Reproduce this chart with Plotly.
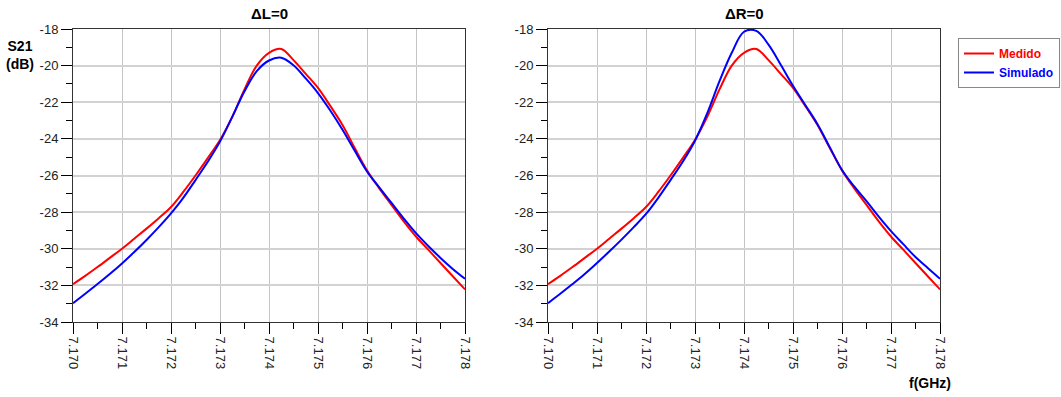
import plotly.graph_objects as go

# Frequency sweep (GHz)
freq = [7.17000, 7.17025, 7.17050, 7.17075, 7.17100, 7.17125, 7.17150, 7.17175,
        7.17200, 7.17225, 7.17250, 7.17275, 7.17300, 7.17325, 7.17350, 7.17375,
        7.17400, 7.17425, 7.17450, 7.17475, 7.17500, 7.17525, 7.17550, 7.17575,
        7.17600, 7.17625, 7.17650, 7.17675, 7.17700, 7.17725, 7.17750, 7.17775,
        7.17800]

# Measured S21 (dB), shown in both panels
medido = [-31.93, -31.48, -31.00, -30.50, -30.00, -29.45, -28.90, -28.33,
          -27.72, -26.90, -26.00, -25.05, -24.06, -22.80, -21.30, -20.00,
          -19.30, -19.09, -19.70, -20.45, -21.22, -22.20, -23.24, -24.50,
          -25.72, -26.70, -27.60, -28.50, -29.33, -30.05, -30.78, -31.50,
          -32.22]

# Simulated S21 (dB) with delta L = 0
simulado_l = [-32.98, -32.46, -31.93, -31.38, -30.80, -30.18, -29.52, -28.82,
              -28.07, -27.22, -26.25, -25.25, -24.15, -22.80, -21.40, -20.30,
              -19.72, -19.57, -19.98, -20.70, -21.50, -22.45, -23.50, -24.65,
              -25.78, -26.65, -27.50, -28.35, -29.15, -29.85, -30.50, -31.10,
              -31.64]

# Simulated S21 (dB) with delta R = 0
simulado_r = [-32.97, -32.46, -31.93, -31.38, -30.78, -30.15, -29.50, -28.82,
              -28.10, -27.22, -26.25, -25.25, -24.10, -22.60, -20.85, -19.30,
              -18.15, -18.10, -18.85, -19.95, -21.10, -22.15, -23.20, -24.45,
              -25.70, -26.60, -27.40, -28.25, -29.04, -29.75, -30.45, -31.05,
              -31.64]

panel_titles = ["\u0394L=0", "\u0394R=0"]
series_names = ["Medido", "Simulado"]
series_colors = ["#ff0000", "#0000ff"]

x_ticks = [7.170, 7.171, 7.172, 7.173, 7.174, 7.175, 7.176, 7.177, 7.178]
y_ticks = [-34, -32, -30, -28, -26, -24, -22, -20, -18]

W, H = 1061, 397
left_dom = [73 / W, 465 / W]
right_dom = [548 / W, 940 / W]
y_dom = [1 - 322 / H, 1 - 29 / H]

fig = go.Figure()

panels = [("x", "y", simulado_l), ("x2", "y2", simulado_r)]
for i, (xa, ya, sim) in enumerate(panels):
    for name, color, vals in zip(series_names, series_colors, [medido, sim]):
        fig.add_trace(go.Scatter(
            x=freq, y=vals, mode="lines", xaxis=xa, yaxis=ya,
            line=dict(color=color, width=2, shape="spline", smoothing=1.0),
            name=f'<span style="color:{color}"><b>{name}</b></span>',
            showlegend=(i == 0),
        ))

tick_font = dict(family="Liberation Sans, Arial, sans-serif", size=13, color="#222")

def x_axis(domain, anchor):
    return dict(
        domain=domain, anchor=anchor, range=[7.170, 7.178], automargin=False,
        tickvals=x_ticks, ticktext=[f"{v:.3f}" for v in x_ticks],
        tickangle=90, ticks="outside", ticklen=11, tickcolor="#000", tickwidth=1,
        tickfont=tick_font,
        showline=True, linecolor="#333", linewidth=1, mirror=True,
        showgrid=True, gridcolor="#c4c4c4", gridwidth=1,
        zeroline=False,
        minor=dict(dtick=0.0005, tick0=7.170, ticks="outside", ticklen=6,
                   tickcolor="#000", showgrid=False),
    )

def y_axis(anchor):
    return dict(
        domain=y_dom, anchor=anchor, range=[-34, -18], automargin=False,
        tickvals=y_ticks, ticktext=[str(v) for v in y_ticks],
        ticks="outside", ticklen=11, tickcolor="#000", tickwidth=1,
        tickfont=tick_font,
        showline=True, linecolor="#333", linewidth=1, mirror=True,
        showgrid=True, gridcolor="#d2d2d2", gridwidth=2,
        zeroline=False,
        minor=dict(dtick=1, tick0=-34, ticks="outside", ticklen=6,
                   tickcolor="#000", showgrid=False),
    )

bold_font = dict(family="Liberation Sans, Arial, sans-serif", size=15, color="#000")

annotations = []
for title, dom in zip(panel_titles, [left_dom, right_dom]):
    annotations.append(dict(
        text=f"<b>{title}</b>", x=(dom[0] + dom[1]) / 2, y=1 - 14 / H,
        xref="paper", yref="paper", showarrow=False,
        xanchor="center", yanchor="middle", font=bold_font,
    ))
annotations.append(dict(
    text="<b>S21<br>(dB)</b>", x=20 / W, y=1 - 55 / H, xref="paper", yref="paper",
    showarrow=False, xanchor="center", yanchor="middle",
    font=dict(family="Liberation Sans, Arial, sans-serif", size=14, color="#000"),
))
annotations.append(dict(
    text="<b>f(GHz)</b>", x=930 / W, y=1 - 383 / H, xref="paper", yref="paper",
    showarrow=False, xanchor="center", yanchor="middle",
    font=dict(family="Liberation Sans, Arial, sans-serif", size=14, color="#000"),
))

fig.update_layout(
    width=W, height=H,
    margin=dict(l=0, r=0, t=0, b=0, autoexpand=False),
    paper_bgcolor="#ffffff", plot_bgcolor="#ffffff",
    xaxis=x_axis(left_dom, "y"), yaxis=y_axis("x"),
    xaxis2=x_axis(right_dom, "y2"), yaxis2=y_axis("x2"),
    annotations=annotations,
    legend=dict(
        x=958 / W, y=1 - 38 / H, xanchor="left", yanchor="top",
        bgcolor="#ffffff", bordercolor="#888", borderwidth=1,
        font=dict(family="Liberation Sans, Arial, sans-serif", size=12),
        tracegroupgap=0, itemwidth=30,
    ),
)

fig.write_html("out.html")
